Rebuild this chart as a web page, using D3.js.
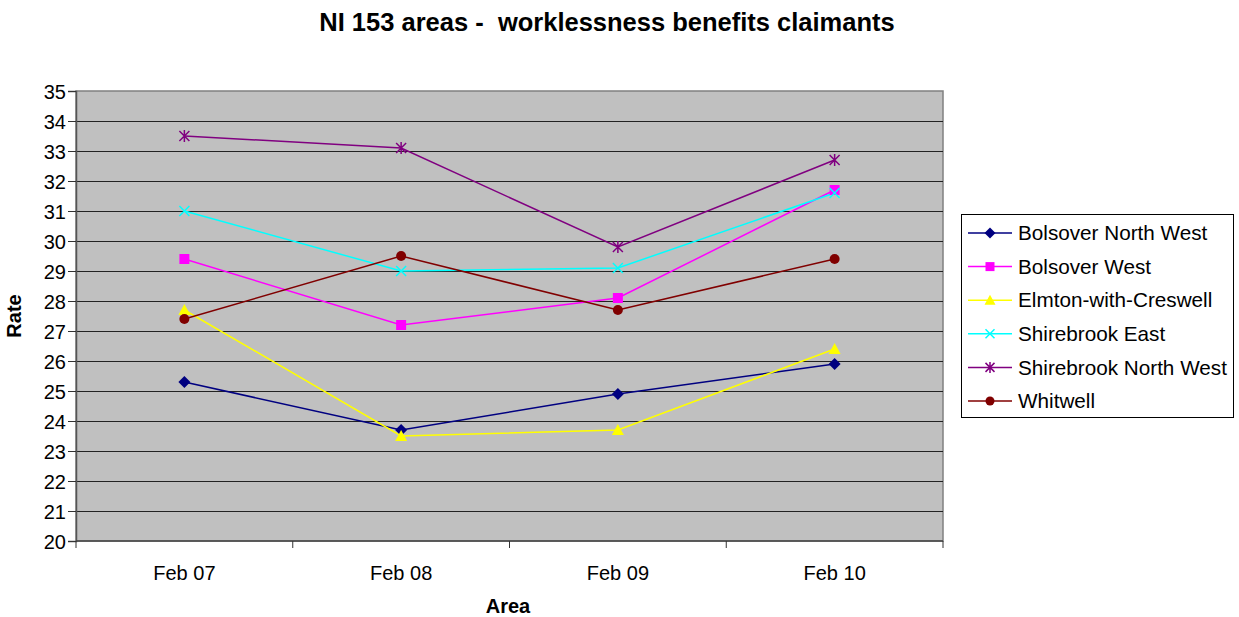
<!DOCTYPE html>
<html>
<head>
<meta charset="utf-8">
<script src="https://cdn.jsdelivr.net/npm/d3@7"></script>
<style>
  html, body { margin: 0; padding: 0; background: #fff; }
  svg text { font-family: "Liberation Sans", Arial, sans-serif; fill: #000; }
</style>
</head>
<body>
<svg id="chart" width="1239" height="617"></svg>
<script>
// Periods on the x axis
const periods = ["Feb 07", "Feb 08", "Feb 09", "Feb 10"];
const yTicks = [20, 21, 22, 23, 24, 25, 26, 27, 28, 29, 30, 31, 32, 33, 34, 35];

// Claimant rates per area
const bolsoverNorthWest = [25.3, 23.7, 24.9, 25.9];
const bolsoverWest = [29.4, 27.2, 28.1, 31.7];
const elmtonWithCreswell = [27.7, 23.5, 23.7, 26.4];
const shirebrookEast = [31.0, 29.0, 29.1, 31.6];
const shirebrookNorthWest = [33.5, 33.1, 29.8, 32.7];
const whitwell = [27.4, 29.5, 27.7, 29.4];

const seriesNames = ["Bolsover North West", "Bolsover West", "Elmton-with-Creswell",
  "Shirebrook East", "Shirebrook North West", "Whitwell"];
const seriesValues = [bolsoverNorthWest, bolsoverWest, elmtonWithCreswell,
  shirebrookEast, shirebrookNorthWest, whitwell];
const seriesColors = ["#000080", "#FF00FF", "#FFFF00", "#00FFFF", "#800080", "#800000"];
const seriesMarkers = ["diamond", "square", "triangle", "x", "star", "circle"];

const series = seriesNames.map((name, i) => ({
  name, values: seriesValues[i], color: seriesColors[i], marker: seriesMarkers[i]
}));

const svg = d3.select("#chart");
const plot = { left: 76, right: 943, top: 91, bottom: 541 };

const x = d3.scaleBand().domain(periods).range([plot.left, plot.right]);
const y = d3.scaleLinear().domain([20, 35]).range([plot.bottom, plot.top]);
const cx = d => x(d) + x.bandwidth() / 2;

// Plot background
svg.append("rect")
  .attr("x", plot.left).attr("y", plot.top)
  .attr("width", plot.right - plot.left).attr("height", plot.bottom - plot.top)
  .attr("fill", "#C0C0C0").attr("stroke", "#808080").attr("stroke-width", 1.5);

// Horizontal gridlines
svg.append("g").selectAll("line")
  .data(yTicks.filter(t => t > 20 && t < 35))
  .join("line")
  .attr("x1", plot.left).attr("x2", plot.right)
  .attr("y1", d => Math.round(y(d)) + 0.5).attr("y2", d => Math.round(y(d)) + 0.5)
  .attr("stroke", "#222").attr("stroke-width", 1);

// Y axis
const yAxis = d3.axisLeft(y).tickValues(yTicks).tickSize(8).tickPadding(2).tickFormat(d3.format("d"));
const gy = svg.append("g").attr("transform", `translate(${plot.left},0)`).call(yAxis);
gy.select(".domain").attr("stroke", "#555").attr("stroke-width", 1.5);
gy.selectAll(".tick line").attr("stroke", "#333");
gy.selectAll("text").attr("font-size", 20).attr("font-family", "Liberation Sans, Arial, sans-serif").attr("dy", "0.35em");

// X axis: ticks sit between categories
const xBoundaries = d3.range(periods.length + 1).map(i => plot.left + i * x.bandwidth());
const gx = svg.append("g");
gx.append("line")
  .attr("x1", plot.left).attr("x2", plot.right)
  .attr("y1", plot.bottom).attr("y2", plot.bottom)
  .attr("stroke", "#444").attr("stroke-width", 1.5);
gx.selectAll("line.tick").data(xBoundaries).join("line")
  .attr("class", "tick")
  .attr("x1", d => d).attr("x2", d => d)
  .attr("y1", plot.bottom).attr("y2", plot.bottom + 7)
  .attr("stroke", "#333");
gx.selectAll("text").data(periods).join("text")
  .attr("x", d => cx(d)).attr("y", 580)
  .attr("text-anchor", "middle").attr("font-size", 20)
  .text(d => d);

// Titles
svg.append("text").attr("x", 607).attr("y", 31).attr("text-anchor", "middle")
  .attr("font-size", 25.5).attr("font-weight", "bold")
  .style("white-space", "pre")
  .text("NI 153 areas -  worklessness benefits claimants");
svg.append("text").attr("x", 508).attr("y", 613).attr("text-anchor", "middle")
  .attr("font-size", 20).attr("font-weight", "bold").text("Area");
svg.append("text").attr("transform", "translate(21,316) rotate(-90)")
  .attr("text-anchor", "middle").attr("font-size", 20).attr("font-weight", "bold").text("Rate");

// Marker drawing
function drawMarker(g, type, color, s) {
  switch (type) {
    case "diamond":
      g.append("path").attr("d", `M0,${-s - 1}L${s + 1},0L0,${s + 1}L${-s - 1},0Z`).attr("fill", color);
      break;
    case "square":
      g.append("rect").attr("x", -s).attr("y", -s).attr("width", 2 * s).attr("height", 2 * s).attr("fill", color);
      break;
    case "triangle":
      g.append("path").attr("d", `M0,${-s - 1}L${s + 1},${s}L${-s - 1},${s}Z`).attr("fill", color);
      break;
    case "x":
      g.append("path").attr("d", `M${-s},${-s}L${s},${s}M${-s},${s}L${s},${-s}`).attr("stroke", color).attr("stroke-width", 1.5);
      break;
    case "star":
      g.append("path").attr("d", `M${-s},${-s}L${s},${s}M${-s},${s}L${s},${-s}M0,${-s - 1}L0,${s + 1}`).attr("stroke", color).attr("stroke-width", 1.5);
      break;
    case "circle":
      g.append("circle").attr("r", s).attr("fill", color);
      break;
  }
}

const line = d3.line().x((d, i) => cx(periods[i])).y(d => y(d));

const gSeries = svg.append("g");
series.forEach(s => {
  gSeries.append("path").datum(s.values).attr("d", line)
    .attr("fill", "none").attr("stroke", s.color).attr("stroke-width", 1.5);
});
series.forEach(s => {
  s.values.forEach((v, i) => {
    const g = gSeries.append("g").attr("transform", `translate(${cx(periods[i])},${y(v)})`);
    drawMarker(g, s.marker, s.color, 5);
  });
});

// Legend
const legend = { x: 961, y: 214, w: 272, h: 203 };
svg.append("rect").attr("x", legend.x + 0.5).attr("y", legend.y + 0.5)
  .attr("width", legend.w).attr("height", legend.h)
  .attr("fill", "#fff").attr("stroke", "#000").attr("stroke-width", 1);
const li = svg.append("g").selectAll("g").data(series).join("g")
  .attr("transform", (d, i) => `translate(${legend.x}, ${legend.y + 19 + i * 33.6})`);
li.append("line").attr("x1", 7).attr("x2", 51).attr("y1", 0).attr("y2", 0)
  .attr("stroke", d => d.color).attr("stroke-width", 1.5);
li.each(function(d) {
  const g = d3.select(this).append("g").attr("transform", "translate(29,0)");
  drawMarker(g, d.marker, d.color, 4.5);
});
li.append("text").attr("x", 57).attr("y", 0).attr("dy", "0.35em")
  .attr("font-size", 20.7).text(d => d.name);
</script>
</body>
</html>
